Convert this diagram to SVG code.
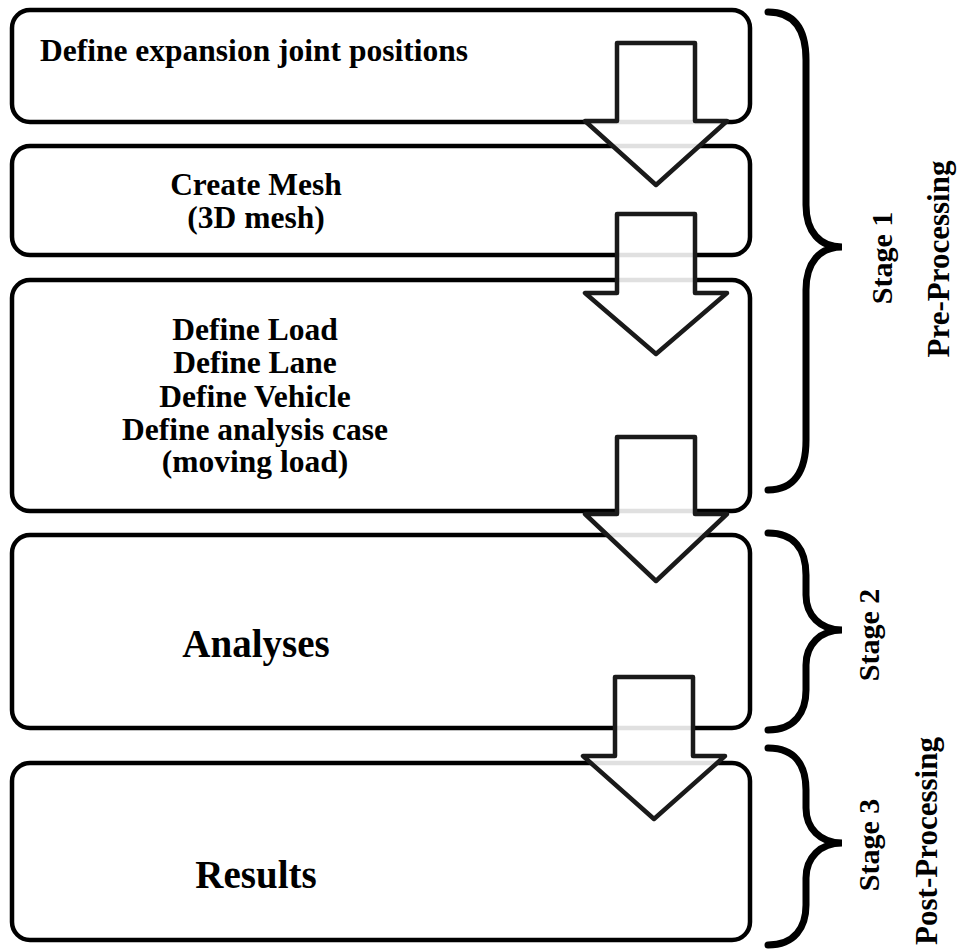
<svg xmlns="http://www.w3.org/2000/svg" width="959" height="950" viewBox="0 0 959 950">
<style>
.box{fill:#fff;stroke:#000;stroke-width:4.5}
.arr{fill:#fff;fill-opacity:0.88;stroke:#1a1a1a;stroke-width:4.5;stroke-linejoin:round}
.brace{fill:none;stroke:#000;stroke-width:7;stroke-linecap:round}
.t{font-family:"Liberation Serif","Times New Roman",serif;font-weight:bold;fill:#000}
.m{font-size:31.5px;text-anchor:middle}
.b{font-size:39px;text-anchor:middle}
.s{font-size:30px;text-anchor:middle}
</style>
<rect width="959" height="950" fill="#fff"/>
<g id="n1">
<rect class="box" x="12" y="10" width="738" height="112" rx="18"/>
<text class="t" x="40" y="61" font-size="31.5">Define expansion joint positions</text>
</g>
<g id="n2">
<rect class="box" x="12" y="146" width="738" height="109" rx="18"/>
<text class="t m" x="256" y="195">Create Mesh</text>
<text class="t m" x="256" y="228">(3D mesh)</text>
</g>
<g id="n3">
<rect class="box" x="12" y="280" width="738" height="231" rx="18"/>
<text class="t m" x="255" y="340">Define Load</text>
<text class="t m" x="255" y="373">Define Lane</text>
<text class="t m" x="255" y="407">Define Vehicle</text>
<text class="t m" x="255" y="440">Define analysis case</text>
<text class="t m" x="255" y="472">(moving load)</text>
</g>
<g id="n4">
<rect class="box" x="12" y="535" width="738" height="193" rx="18"/>
<text class="t b" x="256" y="657">Analyses</text>
</g>
<g id="n5">
<rect class="box" x="12" y="763" width="738" height="177" rx="18"/>
<text class="t b" x="256" y="888">Results</text>
</g>
<g id="connectors">
<path class="arr" d="M617,43 L695,43 L695,121 L727,121 L656,185 L585,121 L617,121 Z"/>
<path class="arr" d="M617,214 L695,214 L695,293 L727,293 L656,354 L585,293 L617,293 Z"/>
<path class="arr" d="M617,437 L695,437 L695,514 L727,514 L656,581 L585,514 L617,514 Z"/>
<path class="arr" d="M615,677 L693,677 L693,756 L725,756 L654,819 L583,756 L615,756 Z"/>
</g>
<g id="stage1">
<path class="brace" d="M768,12 C795,12 806,30 806,60 L806,205 C806,232 820,247 842,247 C820,247 806,262 806,290 L806,440 C806,470 795,490 768,490"/>
<text class="t s" transform="translate(892,258) rotate(-90)">Stage 1</text>
<text class="t" font-size="31" text-anchor="middle" transform="translate(949,259) rotate(-90)">Pre-Processing</text>
</g>
<g id="stage2">
<path class="brace" d="M768,533 C795,533 806,550 806,575 L806,595 C806,615 820,630 842,630 C820,630 806,645 806,665 L806,690 C806,712 795,730 768,730"/>
<text class="t s" transform="translate(879,635) rotate(-90)">Stage 2</text>
</g>
<g id="stage3">
<path class="brace" d="M768,748 C795,748 806,765 806,790 L806,808 C806,828 820,843 842,843 C820,843 806,858 806,878 L806,905 C806,927 795,945 768,945"/>
<text class="t s" transform="translate(879,845) rotate(-90)">Stage 3</text>
<text class="t" font-size="31" text-anchor="middle" transform="translate(937,841) rotate(-90)">Post-Processing</text>
</g>
</svg>
